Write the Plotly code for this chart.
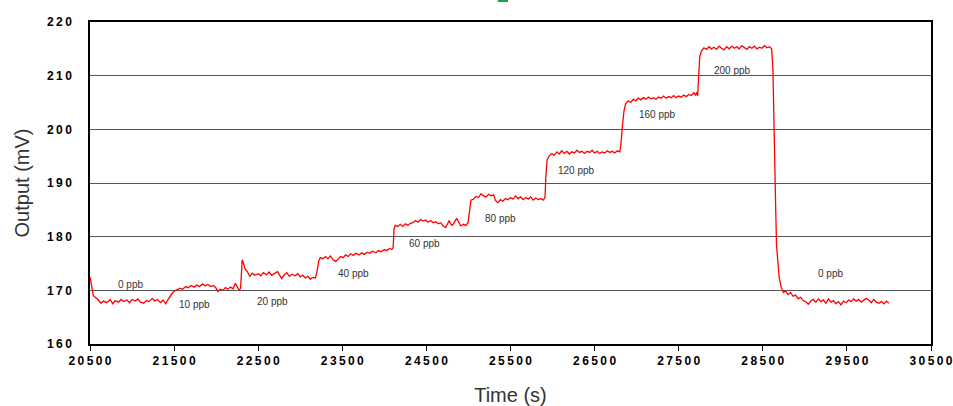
import plotly.graph_objects as go

# ---- data (time in s, output in mV) ----
t_0ppb = [20500, 20520, 20540, 20570, 20600, 20630, 20660, 20700, 20740, 20770, 20800, 20840,
          20870, 20900, 20940, 20970, 21000, 21040, 21070, 21100, 21140, 21170, 21200, 21240,
          21270, 21300, 21340, 21370, 21400, 21420, 21450, 21480, 21510, 21540]
v_0ppb = [172.5, 170.5, 169.0, 168.6, 168.2, 167.6, 168.0, 167.7, 168.3, 167.5, 168.1, 167.8,
          168.3, 167.9, 168.2, 167.7, 168.3, 168.0, 168.4, 167.8, 167.6, 168.1, 167.9, 168.5,
          168.0, 168.3, 167.7, 168.2, 167.5, 168.1, 168.9, 169.5, 169.9, 170.2]

t_10ppb = [21570, 21600, 21640, 21670, 21700, 21740, 21770, 21800, 21840, 21870, 21900, 21940,
           21970, 22000, 22020, 22050, 22080, 22110, 22140, 22170, 22200, 22230, 22250, 22270,
           22290, 22300, 22310, 22325, 22345, 22370, 22400]
v_10ppb = [170.4, 170.2, 170.7, 170.5, 170.9, 170.6, 171.0, 170.7, 171.2, 170.8, 171.1, 170.7,
           170.9, 170.4, 169.8, 170.2, 170.0, 170.5, 170.2, 170.6, 170.3, 171.3, 170.8, 170.1,
           170.3, 173.0, 175.7, 175.0, 174.0, 173.5, 172.6]

t_20ppb = [22430, 22460, 22500, 22530, 22560, 22600, 22630, 22660, 22700, 22730, 22760, 22780,
           22810, 22840, 22870, 22900, 22940, 22970, 23000, 23030, 23060, 23090, 23120, 23150,
           23180, 23200, 23220, 23240]
v_20ppb = [173.2, 172.8, 173.1, 172.7, 173.3, 172.9, 173.4, 172.8, 173.2, 173.5, 172.7, 172.2,
           172.9, 173.3, 172.6, 173.0, 172.7, 173.1, 172.5, 172.8, 172.3, 172.6, 172.1, 172.4,
           172.3, 173.5, 175.5, 176.1]

t_40ppb = [23270, 23300, 23330, 23360, 23390, 23420, 23450, 23480, 23510, 23540, 23570, 23600,
           23630, 23660, 23700, 23730, 23760, 23800, 23830, 23860, 23900, 23930, 23960, 24000,
           24030, 24060, 24090, 24105, 24115, 24130]
v_40ppb = [175.9, 176.3, 175.9, 176.4, 175.7, 175.4, 175.8, 176.3, 176.1, 176.6, 176.3, 176.8,
           176.5, 176.9, 176.6, 177.0, 176.7, 177.1, 176.9, 177.3, 177.0, 177.4, 177.2, 177.6,
           177.4, 177.8, 177.6, 178.0, 181.5, 182.1]

t_60ppb = [24160, 24190, 24220, 24250, 24280, 24310, 24340, 24370, 24400, 24430, 24460, 24490,
           24520, 24550, 24580, 24610, 24640, 24670, 24700, 24730, 24750, 24770, 24790, 24810,
           24840, 24860, 24880, 24910, 24940, 24970, 24995, 25010, 25030]
v_60ppb = [181.9, 182.3, 181.9, 182.4, 182.1, 182.5, 182.6, 183.0, 182.7, 183.2, 182.9, 183.1,
           182.7, 183.0, 182.6, 182.8, 182.4, 182.6, 182.0, 181.7, 182.3, 183.0, 182.3, 182.1,
           182.9, 183.4, 182.8, 182.0, 182.3, 182.1, 182.6, 185.0, 186.8]

t_80ppb = [25060, 25090, 25120, 25150, 25180, 25210, 25240, 25270, 25300, 25320, 25350, 25380,
           25410, 25440, 25470, 25500, 25530, 25560, 25590, 25620, 25650, 25680, 25710, 25740,
           25770, 25800, 25830, 25860, 25890, 25910, 25920, 25935, 25960]
v_80ppb = [187.0, 187.5, 187.3, 188.0, 187.6, 187.4, 187.9, 187.6, 187.8, 186.8, 186.3, 186.9,
           186.6, 187.1, 186.9, 187.3, 187.0, 187.6, 187.1, 187.4, 186.9, 187.3, 187.0, 187.4,
           186.8, 187.2, 186.9, 187.1, 186.8, 187.3, 191.0, 194.3, 195.0]

t_120ppb = [25990, 26020, 26050, 26080, 26110, 26140, 26170, 26200, 26230, 26260, 26290, 26320,
            26350, 26380, 26410, 26440, 26470, 26500, 26530, 26560, 26590, 26620, 26650, 26680,
            26710, 26740, 26770, 26800, 26815, 26830, 26850, 26870]
v_120ppb = [195.5, 195.2, 195.8, 195.4, 196.0, 195.5, 195.9, 195.4, 195.8, 195.6, 196.1, 195.7,
            195.9, 195.5, 195.9, 195.7, 196.1, 195.6, 195.9, 195.5, 195.8, 195.6, 196.0, 195.7,
            195.9, 195.6, 196.0, 195.8, 197.5, 200.5, 203.5, 204.8]

t_160ppb = [26900, 26930, 26960, 26990, 27020, 27050, 27080, 27110, 27140, 27170, 27200, 27230,
            27260, 27290, 27320, 27350, 27380, 27410, 27440, 27470, 27500, 27530, 27560, 27590,
            27620, 27650, 27680, 27700, 27715, 27725, 27735, 27750, 27770]
v_160ppb = [205.3, 205.0, 205.6, 205.3, 205.8, 205.5, 205.9, 205.6, 206.0, 205.7, 205.9, 205.6,
            206.0, 205.8, 206.2, 205.8, 206.1, 205.9, 206.3, 205.9, 206.2, 206.0, 206.4, 206.1,
            206.5, 206.3, 206.8, 206.4, 206.9, 206.2, 209.5, 213.5, 214.6]

t_200ppb = [27800, 27830, 27860, 27890, 27920, 27950, 27980, 28010, 28040, 28070, 28100, 28130,
            28160, 28190, 28220, 28250, 28280, 28310, 28340, 28370, 28400, 28430, 28460, 28490,
            28520, 28550, 28580, 28605, 28620, 28632, 28643, 28653, 28663, 28678, 28695, 28720,
            28745]
v_200ppb = [215.2, 214.9, 215.4, 215.0, 215.3, 214.9, 215.5, 215.1, 214.8, 215.4, 215.0, 215.5,
            215.1, 215.4, 215.0, 215.6, 215.2, 214.9, 215.4, 215.1, 215.5, 215.0, 215.3, 215.1,
            215.6, 215.2, 215.4, 215.0, 211.5, 204.0, 194.5, 185.5, 178.5, 174.5, 172.3, 170.5,
            169.6]

t_recov = [28770, 28800, 28830, 28860, 28890, 28920, 28950, 28980, 29010, 29040, 29070, 29100,
           29130, 29160, 29190, 29220, 29250, 29280, 29310, 29340, 29370, 29400, 29430, 29460,
           29490, 29520, 29550, 29580, 29610, 29640, 29670, 29700, 29730, 29760, 29790, 29820,
           29850, 29880, 29910, 29940, 29970, 30000]
v_recov = [169.9, 169.2, 169.6, 168.9, 169.1, 168.4, 168.7, 168.1, 167.9, 167.4, 168.0, 168.3,
           167.8, 168.4, 167.9, 168.2, 167.6, 168.4, 167.8, 168.1, 167.5, 167.9, 167.3, 168.0,
           167.7, 168.2, 167.9, 168.4, 168.0, 168.3, 167.8, 168.1, 168.5, 168.2, 167.7, 168.3,
           167.8, 167.6, 167.9, 167.5, 168.0, 167.6]

# concentration labels: text, time position, output position
label_text = ["0 ppb", "10 ppb", "20 ppb", "40 ppb", "60 ppb", "80 ppb",
              "120 ppb", "160 ppb", "200 ppb", "0 ppb"]
label_t = [20976, 21737, 22672, 23631, 24483, 25383, 26283, 27250, 28138, 29299]
label_v = [171.0, 167.3, 168.0, 173.1, 178.7, 183.3, 192.3, 202.7, 211.0, 173.1]

x_ticks = [20500, 21500, 22500, 23500, 24500, 25500, 26500, 27500, 28500, 29500, 30500]
y_ticks = [160, 170, 180, 190, 200, 210, 220]

time = (t_0ppb + t_10ppb + t_20ppb + t_40ppb + t_60ppb + t_80ppb + t_120ppb
        + t_160ppb + t_200ppb + t_recov)
output = (v_0ppb + v_10ppb + v_20ppb + v_40ppb + v_60ppb + v_80ppb + v_120ppb
          + v_160ppb + v_200ppb + v_recov)


def spaced(value):
    # bold tick text with a thin space between digits (wide-set look of the original)
    return "<b>" + "\u2009".join(str(value)) + "</b>"


fig = go.Figure()
fig.add_trace(go.Scatter(x=time, y=output, mode="lines",
                         line=dict(color="#ff0000", width=1.3),
                         showlegend=False, hoverinfo="x+y"))

for txt, tx, vy in zip(label_text, label_t, label_v):
    fig.add_annotation(x=tx, y=vy, text=txt, showarrow=False,
                       font=dict(family="Arial, Liberation Sans", size=10, color="#333333"))

# small green mark at the very top edge of the reference picture
fig.add_shape(type="rect", xref="paper", yref="paper",
              x0=0.485, x1=0.497, y0=1.062, y1=1.075,
              fillcolor="#16a34a", line=dict(width=0), layer="above")

fig.update_layout(
    width=953, height=406,
    margin=dict(l=90, r=22, t=22, b=62),
    paper_bgcolor="white", plot_bgcolor="white",
    font=dict(family="Arial, Liberation Sans", color="#000000"),
    xaxis=dict(
        range=[20500, 30500], tickvals=x_ticks,
        ticktext=[spaced(v) for v in x_ticks],
        tickfont=dict(size=12, color="#000000"),
        ticklabeloverflow="allow",
        showgrid=False, zeroline=False, automargin=False,
        showline=True, linecolor="#000000", linewidth=1.5, mirror=True,
        ticks="outside", ticklen=5, tickcolor="#000000", tickwidth=1,
        title=dict(text="Time (s)", font=dict(size=20, color="#333333"), standoff=21),
    ),
    yaxis=dict(
        range=[160, 220], tickvals=y_ticks,
        ticktext=[spaced(v) for v in y_ticks],
        tickfont=dict(size=12, color="#000000"),
        showgrid=True, gridcolor="#555555", gridwidth=1, zeroline=False, automargin=False,
        showline=True, linecolor="#000000", linewidth=1.5, mirror=True,
        ticks="", ticklabelstandoff=14,
        title=dict(text="Output (mV)", font=dict(size=20, color="#333333"), standoff=12),
    ),
)

# remove the page's default 8px body margin so the figure fills the window exactly
fig.write_html("out.html",
               config={"displayModeBar": False},
               post_script="document.body.style.margin='0';document.body.style.overflow='hidden';")
